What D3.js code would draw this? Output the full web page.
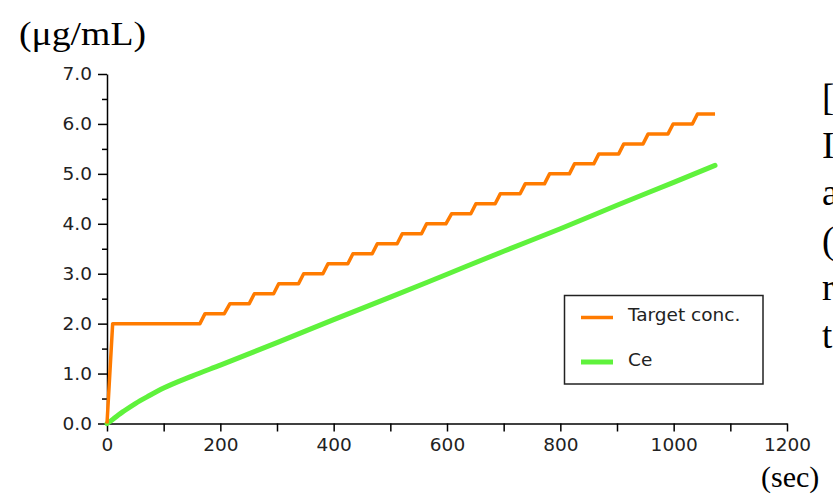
<!DOCTYPE html>
<html>
<head>
<meta charset="utf-8">
<script src="https://cdn.jsdelivr.net/npm/d3@7"></script>
<style>
  html, body { margin: 0; padding: 0; background: #fff; overflow: hidden; }
  svg { display: block; }
</style>
</head>
<body>
<svg id="chart" width="833" height="497"></svg>
<script>
// values
var targetTime = [0, 10, 164, 173, 207, 217, 251, 260, 294, 303, 338, 347, 381, 390, 425, 434, 468, 477, 512, 521, 555, 564, 598, 608, 642, 651, 685, 694, 729, 738, 772, 781, 816, 825, 859, 868, 903, 912, 946, 955, 990, 999, 1033, 1042, 1073];
var targetConc = [0, 2.0, 2.0, 2.2, 2.2, 2.4, 2.4, 2.6, 2.6, 2.8, 2.8, 3.0, 3.0, 3.2, 3.2, 3.4, 3.4, 3.6, 3.6, 3.8, 3.8, 4.0, 4.0, 4.2, 4.2, 4.4, 4.4, 4.6, 4.6, 4.8, 4.8, 5.0, 5.0, 5.2, 5.2, 5.4, 5.4, 5.6, 5.6, 5.8, 5.8, 6.0, 6.0, 6.2, 6.2];
var ceTime = [0, 10, 20, 30, 50, 75, 100, 150, 200, 300, 400, 500, 600, 700, 800, 900, 1000, 1073];
var ceConc = [0, 0.08, 0.17, 0.25, 0.4, 0.56, 0.71, 0.95, 1.17, 1.62, 2.08, 2.53, 2.99, 3.45, 3.9, 4.37, 4.83, 5.17];
var xTicks = [0, 200, 400, 600, 800, 1000, 1200];
var xMinor = [100, 300, 500, 700, 900, 1100];
var yTicks = [0, 1, 2, 3, 4, 5, 6, 7];
var yMinor = [0.5, 1.5, 2.5, 3.5, 4.5, 5.5, 6.5];
var seriesNames = ["Target conc.", "Ce"];
var seriesColors = ["#ff7b00", "#5ff23c"];
var sideLetters = ["[", "I", "a", "(", "r", "t"];

var svg = d3.select('#chart');
var sansFont = "'DejaVu Sans', sans-serif";
var serifFont = "'Liberation Serif', 'Times New Roman', serif";

var x = d3.scaleLinear().domain([0, 1200]).range([107, 787]);
var y = d3.scaleLinear().domain([0, 7]).range([423.5, 74]);

//axes
var yAxis = svg.append('g')
	.attr("transform", "translate(107,0)")
	.call(d3.axisLeft(y).tickValues(yTicks).tickFormat(d3.format(".1f")).tickSize(9).tickSizeOuter(0).tickPadding(6));
svg.append('g')
	.attr("transform", "translate(107,0)")
	.call(d3.axisLeft(y).tickValues(yMinor).tickFormat("").tickSize(5).tickSizeOuter(0))
	.select('.domain').remove();

var xAxis = svg.append('g')
	.attr("transform", "translate(0,423.5)")
	.call(d3.axisBottom(x).tickValues(xTicks).tickFormat(d3.format("d")).tickSize(8).tickSizeOuter(0).tickPadding(6));
svg.append('g')
	.attr("transform", "translate(0,423.5)")
	.call(d3.axisBottom(x).tickValues(xMinor).tickFormat("").tickSize(8).tickSizeOuter(0))
	.select('.domain').remove();

svg.selectAll('.domain, .tick line')
	.attr("stroke", "#000")
	.attr("stroke-width", 1.5);
svg.selectAll('.tick text')
	.attr("font-family", sansFont)
	.attr("font-size", 18.5)
	.attr("fill", "#222");

//lines
var line = d3.line()
	.x(function(d){ return x(d[0]); })
	.y(function(d){ return y(d[1]); });

var ceData = ceTime.map(function(t, i){ return [t, ceConc[i]]; });
var targetData = targetTime.map(function(t, i){ return [t, targetConc[i]]; });

svg.append('path')
	.datum(ceData)
	.attr("d", d3.line().curve(d3.curveMonotoneX).x(function(d){ return x(d[0]); }).y(function(d){ return y(d[1]); }))
	.attr("fill", "none")
	.attr("stroke", seriesColors[1])
	.attr("stroke-width", 5)
	.attr("stroke-linecap", "round");

svg.append('path')
	.datum(targetData)
	.attr("d", line)
	.attr("fill", "none")
	.attr("stroke", seriesColors[0])
	.attr("stroke-width", 3.5)
	.attr("stroke-linejoin", "round");

//legend
var legend = svg.append('g');
legend.append('rect')
	.attr("x", 564.5).attr("y", 295.5)
	.attr("width", 198.5).attr("height", 88.5)
	.attr("fill", "#fff")
	.attr("stroke", "#222")
	.attr("stroke-width", 1.5);
var items = legend.selectAll('g.item')
	.data(seriesNames)
	.enter()
	.append('g')
	.attr("class", "item")
	.attr("transform", function(d, i){ return "translate(0," + (317.5 + i * 44.5) + ")"; });
items.append('line')
	.attr("x1", 581).attr("x2", 613)
	.attr("y1", 0).attr("y2", 0)
	.attr("stroke", function(d, i){ return seriesColors[i]; })
	.attr("stroke-width", function(d, i){ return i == 0 ? 3.5 : 5; });
items.append('text')
	.attr("x", 628)
	.attr("y", 3.5)
	.attr("font-family", sansFont)
	.attr("font-size", 18.5)
	.attr("fill", "#222")
	.text(function(d){ return d; });

//unit labels
svg.append('text')
	.attr("x", 19).attr("y", 45)
	.attr("font-family", serifFont)
	.attr("font-size", 34)
	.attr("textLength", 127)
	.attr("lengthAdjust", "spacingAndGlyphs")
	.attr("fill", "#000")
	.text("(μg/mL)");
svg.append('text')
	.attr("x", 761).attr("y", 487)
	.attr("font-family", serifFont)
	.attr("font-size", 30)
	.attr("fill", "#000")
	.text("(sec)");

//text cut off at the right edge
svg.selectAll('text.side')
	.data(sideLetters)
	.enter()
	.append('text')
	.attr("class", "side")
	.attr("x", 822)
	.attr("y", function(d, i){ return 110 + i * 47.5; })
	.attr("font-family", serifFont)
	.attr("font-size", 37)
	.attr("fill", "#000")
	.text(function(d){ return d; });
</script>
</body>
</html>
